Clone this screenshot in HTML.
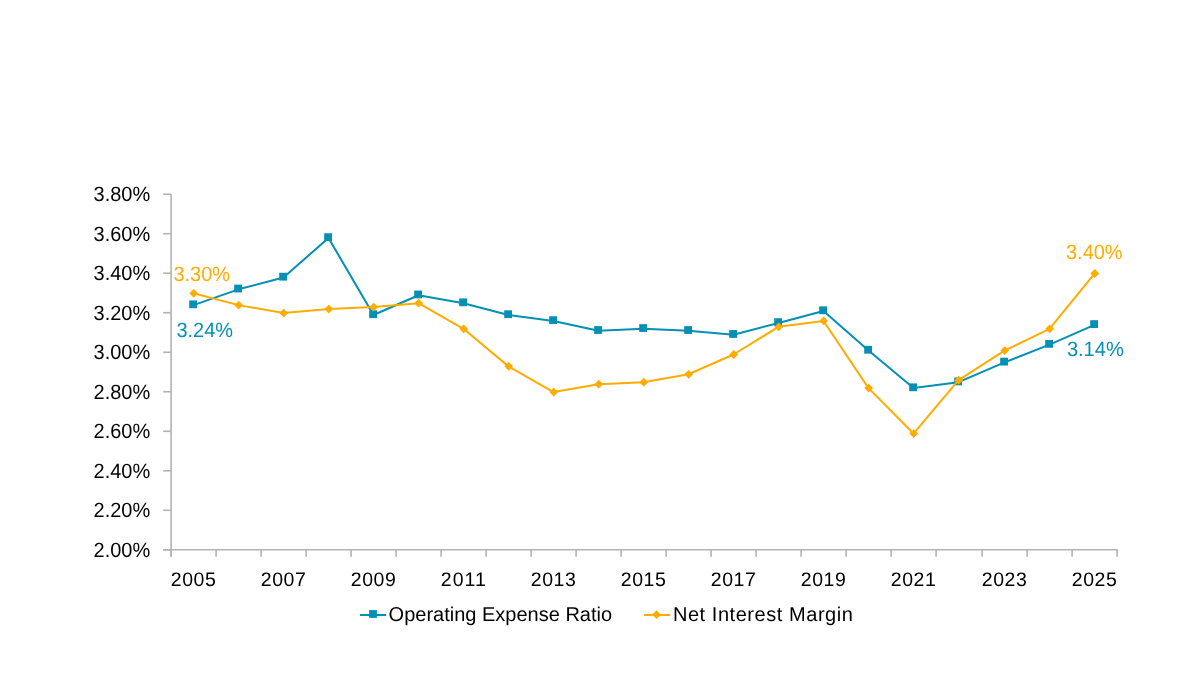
<!DOCTYPE html>
<html><head><meta charset="utf-8"><style>
html,body{margin:0;padding:0;background:#fff;}
body{width:1200px;height:675px;overflow:hidden;}
svg{display:block;}
.t{text-rendering:geometricPrecision;}
text{will-change:transform;}
.t{font-family:"Liberation Sans",sans-serif;font-size:19.5px;fill:#000000;}
</style></head><body>
<svg width="1200" height="675" viewBox="0 0 1200 675">
<rect width="1200" height="675" fill="#fff"/>
<line x1="171.1" y1="194.2" x2="171.1" y2="556.8" stroke="#B3B3B3" stroke-width="1.6"/>
<line x1="163.1" y1="549.8" x2="1117.8" y2="549.8" stroke="#B3B3B3" stroke-width="1.6"/>
<line x1="163.1" y1="549.80" x2="171.1" y2="549.80" stroke="#B3B3B3" stroke-width="1.6"/>
<text x="93.6" y="556.90" class="t" style="font-size:20.6px" textLength="56.6" lengthAdjust="spacingAndGlyphs">2.00%</text>
<line x1="163.1" y1="510.29" x2="171.1" y2="510.29" stroke="#B3B3B3" stroke-width="1.6"/>
<text x="93.6" y="517.39" class="t" style="font-size:20.6px" textLength="56.6" lengthAdjust="spacingAndGlyphs">2.20%</text>
<line x1="163.1" y1="470.78" x2="171.1" y2="470.78" stroke="#B3B3B3" stroke-width="1.6"/>
<text x="93.6" y="477.88" class="t" style="font-size:20.6px" textLength="56.6" lengthAdjust="spacingAndGlyphs">2.40%</text>
<line x1="163.1" y1="431.27" x2="171.1" y2="431.27" stroke="#B3B3B3" stroke-width="1.6"/>
<text x="93.6" y="438.37" class="t" style="font-size:20.6px" textLength="56.6" lengthAdjust="spacingAndGlyphs">2.60%</text>
<line x1="163.1" y1="391.76" x2="171.1" y2="391.76" stroke="#B3B3B3" stroke-width="1.6"/>
<text x="93.6" y="398.86" class="t" style="font-size:20.6px" textLength="56.6" lengthAdjust="spacingAndGlyphs">2.80%</text>
<line x1="163.1" y1="352.24" x2="171.1" y2="352.24" stroke="#B3B3B3" stroke-width="1.6"/>
<text x="93.6" y="359.34" class="t" style="font-size:20.6px" textLength="56.6" lengthAdjust="spacingAndGlyphs">3.00%</text>
<line x1="163.1" y1="312.73" x2="171.1" y2="312.73" stroke="#B3B3B3" stroke-width="1.6"/>
<text x="93.6" y="319.83" class="t" style="font-size:20.6px" textLength="56.6" lengthAdjust="spacingAndGlyphs">3.20%</text>
<line x1="163.1" y1="273.22" x2="171.1" y2="273.22" stroke="#B3B3B3" stroke-width="1.6"/>
<text x="93.6" y="280.32" class="t" style="font-size:20.6px" textLength="56.6" lengthAdjust="spacingAndGlyphs">3.40%</text>
<line x1="163.1" y1="233.71" x2="171.1" y2="233.71" stroke="#B3B3B3" stroke-width="1.6"/>
<text x="93.6" y="240.81" class="t" style="font-size:20.6px" textLength="56.6" lengthAdjust="spacingAndGlyphs">3.60%</text>
<line x1="163.1" y1="194.20" x2="171.1" y2="194.20" stroke="#B3B3B3" stroke-width="1.6"/>
<text x="93.6" y="201.30" class="t" style="font-size:20.6px" textLength="56.6" lengthAdjust="spacingAndGlyphs">3.80%</text>
<line x1="171.10" y1="549.8" x2="171.10" y2="556.8" stroke="#B3B3B3" stroke-width="1.6"/>
<line x1="216.10" y1="549.8" x2="216.10" y2="556.8" stroke="#B3B3B3" stroke-width="1.6"/>
<line x1="261.10" y1="549.8" x2="261.10" y2="556.8" stroke="#B3B3B3" stroke-width="1.6"/>
<line x1="306.10" y1="549.8" x2="306.10" y2="556.8" stroke="#B3B3B3" stroke-width="1.6"/>
<line x1="351.10" y1="549.8" x2="351.10" y2="556.8" stroke="#B3B3B3" stroke-width="1.6"/>
<line x1="396.10" y1="549.8" x2="396.10" y2="556.8" stroke="#B3B3B3" stroke-width="1.6"/>
<line x1="441.10" y1="549.8" x2="441.10" y2="556.8" stroke="#B3B3B3" stroke-width="1.6"/>
<line x1="486.10" y1="549.8" x2="486.10" y2="556.8" stroke="#B3B3B3" stroke-width="1.6"/>
<line x1="531.10" y1="549.8" x2="531.10" y2="556.8" stroke="#B3B3B3" stroke-width="1.6"/>
<line x1="576.10" y1="549.8" x2="576.10" y2="556.8" stroke="#B3B3B3" stroke-width="1.6"/>
<line x1="621.10" y1="549.8" x2="621.10" y2="556.8" stroke="#B3B3B3" stroke-width="1.6"/>
<line x1="666.10" y1="549.8" x2="666.10" y2="556.8" stroke="#B3B3B3" stroke-width="1.6"/>
<line x1="711.10" y1="549.8" x2="711.10" y2="556.8" stroke="#B3B3B3" stroke-width="1.6"/>
<line x1="756.10" y1="549.8" x2="756.10" y2="556.8" stroke="#B3B3B3" stroke-width="1.6"/>
<line x1="801.10" y1="549.8" x2="801.10" y2="556.8" stroke="#B3B3B3" stroke-width="1.6"/>
<line x1="846.10" y1="549.8" x2="846.10" y2="556.8" stroke="#B3B3B3" stroke-width="1.6"/>
<line x1="891.10" y1="549.8" x2="891.10" y2="556.8" stroke="#B3B3B3" stroke-width="1.6"/>
<line x1="936.10" y1="549.8" x2="936.10" y2="556.8" stroke="#B3B3B3" stroke-width="1.6"/>
<line x1="982.10" y1="549.8" x2="982.10" y2="556.8" stroke="#B3B3B3" stroke-width="1.6"/>
<line x1="1027.10" y1="549.8" x2="1027.10" y2="556.8" stroke="#B3B3B3" stroke-width="1.6"/>
<line x1="1072.10" y1="549.8" x2="1072.10" y2="556.8" stroke="#B3B3B3" stroke-width="1.6"/>
<line x1="1117.10" y1="549.8" x2="1117.10" y2="556.8" stroke="#B3B3B3" stroke-width="1.6"/>
<text x="170.70" y="585.8" class="t" textLength="45.2" lengthAdjust="spacing">2005</text>
<text x="260.70" y="585.8" class="t" textLength="45.2" lengthAdjust="spacing">2007</text>
<text x="350.70" y="585.8" class="t" textLength="45.2" lengthAdjust="spacing">2009</text>
<text x="440.70" y="585.8" class="t" textLength="45.2" lengthAdjust="spacing">2011</text>
<text x="530.70" y="585.8" class="t" textLength="45.2" lengthAdjust="spacing">2013</text>
<text x="620.70" y="585.8" class="t" textLength="45.2" lengthAdjust="spacing">2015</text>
<text x="710.70" y="585.8" class="t" textLength="45.2" lengthAdjust="spacing">2017</text>
<text x="800.70" y="585.8" class="t" textLength="45.2" lengthAdjust="spacing">2019</text>
<text x="890.70" y="585.8" class="t" textLength="45.2" lengthAdjust="spacing">2021</text>
<text x="981.70" y="585.8" class="t" textLength="45.2" lengthAdjust="spacing">2023</text>
<text x="1071.70" y="585.8" class="t" textLength="45.2" lengthAdjust="spacing">2025</text>
<polyline points="193.50,305.13 238.50,289.33 283.50,277.47 328.50,237.96 373.50,315.01 418.50,295.25 463.50,303.16 508.50,315.01 553.50,320.94 598.50,330.81 643.50,328.84 688.50,330.81 733.50,334.76 778.50,322.91 823.50,311.06 868.50,350.57 913.50,388.10 958.50,382.18 1004.50,362.42 1049.50,344.64 1094.50,324.89" fill="none" stroke="#0390B4" stroke-width="2" stroke-linejoin="round"/>
<rect x="189.20" y="300.43" width="7.8" height="7.8" fill="#0390B4"/>
<rect x="234.20" y="284.63" width="7.8" height="7.8" fill="#0390B4"/>
<rect x="279.20" y="272.77" width="7.8" height="7.8" fill="#0390B4"/>
<rect x="324.20" y="233.26" width="7.8" height="7.8" fill="#0390B4"/>
<rect x="369.20" y="310.31" width="7.8" height="7.8" fill="#0390B4"/>
<rect x="414.20" y="290.55" width="7.8" height="7.8" fill="#0390B4"/>
<rect x="459.20" y="298.46" width="7.8" height="7.8" fill="#0390B4"/>
<rect x="504.20" y="310.31" width="7.8" height="7.8" fill="#0390B4"/>
<rect x="549.20" y="316.24" width="7.8" height="7.8" fill="#0390B4"/>
<rect x="594.20" y="326.11" width="7.8" height="7.8" fill="#0390B4"/>
<rect x="639.20" y="324.14" width="7.8" height="7.8" fill="#0390B4"/>
<rect x="684.20" y="326.11" width="7.8" height="7.8" fill="#0390B4"/>
<rect x="729.20" y="330.06" width="7.8" height="7.8" fill="#0390B4"/>
<rect x="774.20" y="318.21" width="7.8" height="7.8" fill="#0390B4"/>
<rect x="819.20" y="306.36" width="7.8" height="7.8" fill="#0390B4"/>
<rect x="864.20" y="345.87" width="7.8" height="7.8" fill="#0390B4"/>
<rect x="909.20" y="383.40" width="7.8" height="7.8" fill="#0390B4"/>
<rect x="954.20" y="377.48" width="7.8" height="7.8" fill="#0390B4"/>
<rect x="1000.20" y="357.72" width="7.8" height="7.8" fill="#0390B4"/>
<rect x="1045.20" y="339.94" width="7.8" height="7.8" fill="#0390B4"/>
<rect x="1090.20" y="320.19" width="7.8" height="7.8" fill="#0390B4"/>
<polyline points="193.50,293.28 238.50,305.13 283.50,313.03 328.50,309.08 373.50,307.11 418.50,303.16 463.50,328.84 508.50,366.37 553.50,392.06 598.50,384.15 643.50,382.18 688.50,374.28 733.50,354.52 778.50,326.86 823.50,320.94 868.50,388.10 913.50,433.54 958.50,380.20 1004.50,350.57 1049.50,328.84 1094.50,273.52" fill="none" stroke="#FFAC00" stroke-width="2" stroke-linejoin="round"/>
<path d="M193.70,288.88 L198.10,293.28 L193.70,297.68 L189.30,293.28Z" fill="#FFAC00"/>
<path d="M238.70,300.73 L243.10,305.13 L238.70,309.53 L234.30,305.13Z" fill="#FFAC00"/>
<path d="M283.70,308.63 L288.10,313.03 L283.70,317.43 L279.30,313.03Z" fill="#FFAC00"/>
<path d="M328.70,304.68 L333.10,309.08 L328.70,313.48 L324.30,309.08Z" fill="#FFAC00"/>
<path d="M373.70,302.71 L378.10,307.11 L373.70,311.51 L369.30,307.11Z" fill="#FFAC00"/>
<path d="M418.70,298.76 L423.10,303.16 L418.70,307.56 L414.30,303.16Z" fill="#FFAC00"/>
<path d="M463.70,324.44 L468.10,328.84 L463.70,333.24 L459.30,328.84Z" fill="#FFAC00"/>
<path d="M508.70,361.97 L513.10,366.37 L508.70,370.77 L504.30,366.37Z" fill="#FFAC00"/>
<path d="M553.70,387.66 L558.10,392.06 L553.70,396.46 L549.30,392.06Z" fill="#FFAC00"/>
<path d="M598.70,379.75 L603.10,384.15 L598.70,388.55 L594.30,384.15Z" fill="#FFAC00"/>
<path d="M643.70,377.78 L648.10,382.18 L643.70,386.58 L639.30,382.18Z" fill="#FFAC00"/>
<path d="M688.70,369.88 L693.10,374.28 L688.70,378.68 L684.30,374.28Z" fill="#FFAC00"/>
<path d="M733.70,350.12 L738.10,354.52 L733.70,358.92 L729.30,354.52Z" fill="#FFAC00"/>
<path d="M778.70,322.46 L783.10,326.86 L778.70,331.26 L774.30,326.86Z" fill="#FFAC00"/>
<path d="M823.70,316.54 L828.10,320.94 L823.70,325.34 L819.30,320.94Z" fill="#FFAC00"/>
<path d="M868.70,383.70 L873.10,388.10 L868.70,392.50 L864.30,388.10Z" fill="#FFAC00"/>
<path d="M913.70,429.14 L918.10,433.54 L913.70,437.94 L909.30,433.54Z" fill="#FFAC00"/>
<path d="M958.70,375.80 L963.10,380.20 L958.70,384.60 L954.30,380.20Z" fill="#FFAC00"/>
<path d="M1004.70,346.17 L1009.10,350.57 L1004.70,354.97 L1000.30,350.57Z" fill="#FFAC00"/>
<path d="M1049.70,324.44 L1054.10,328.84 L1049.70,333.24 L1045.30,328.84Z" fill="#FFAC00"/>
<path d="M1094.70,269.12 L1099.10,273.52 L1094.70,277.92 L1090.30,273.52Z" fill="#FFAC00"/>
<text x="173.4" y="281.0" class="t" style="fill:#FFAC00;font-size:20.6px" textLength="56.6" lengthAdjust="spacingAndGlyphs">3.30%</text>
<text x="176.4" y="336.5" class="t" style="fill:#0390B4;font-size:20.6px" textLength="56.6" lengthAdjust="spacingAndGlyphs">3.24%</text>
<text x="1066.0" y="258.8" class="t" style="fill:#FFAC00;font-size:20.6px" textLength="56.6" lengthAdjust="spacingAndGlyphs">3.40%</text>
<text x="1066.9" y="355.9" class="t" style="fill:#0390B4;font-size:20.6px" textLength="56.9" lengthAdjust="spacingAndGlyphs">3.14%</text>
<line x1="360" y1="615" x2="386.2" y2="615" stroke="#0390B4" stroke-width="2"/>
<rect x="369.1" y="610.1" width="7.8" height="7.8" fill="#0390B4"/>
<text x="388.6" y="621.4" class="t" style="font-size:20px" textLength="223.5" lengthAdjust="spacing">Operating Expense Ratio</text>
<line x1="644" y1="615" x2="670.3" y2="615" stroke="#FFAC00" stroke-width="2"/>
<path d="M656.5,610.3000000000001 L660.8,614.6 L656.5,618.9 L652.2,614.6Z" fill="#FFAC00"/>
<text x="672.9" y="621.4" class="t" style="font-size:20px" textLength="180" lengthAdjust="spacing">Net Interest Margin</text>
</svg>
</body></html>
